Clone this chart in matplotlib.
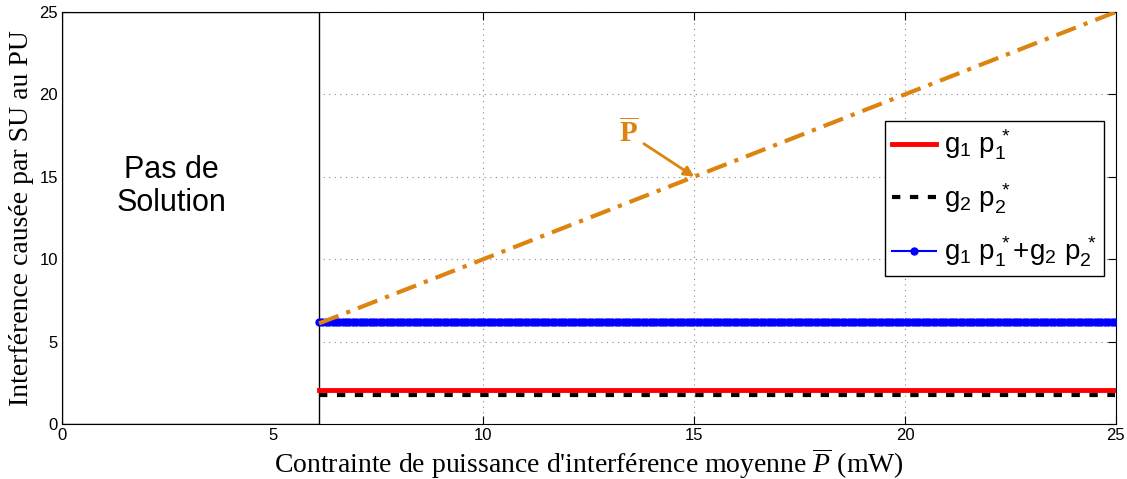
import numpy as np
import matplotlib.pyplot as plt
from matplotlib.patches import Rectangle

plt.rcParams['mathtext.fontset'] = 'custom'
plt.rcParams['mathtext.rm'] = 'Liberation Sans'
plt.rcParams['mathtext.it'] = 'Liberation Serif:italic'
plt.rcParams['mathtext.bf'] = 'Liberation Serif:bold'

# valeurs
p_min = 6.1            # debut de la zone faisable
p_bar = np.arange(p_min, 25.001, 0.08)
g1p1 = 2.05
g2p2 = 1.75
somme = 6.2
x_ticks = [0, 5, 10, 15, 20, 25]
y_ticks = [0, 5, 10, 15, 20, 25]

orange = '#DD8410'

fig = plt.figure(figsize=(11.27, 4.79), dpi=100)
ax = fig.add_axes([0.055, 0.115, 0.935, 0.86])

ax.plot(p_bar, np.full_like(p_bar, g1p1), color='red', lw=3.5, label=r'g$_1$ p$_1^{\ *}$', zorder=3)
ax.plot(p_bar, np.full_like(p_bar, g2p2), color='black', ls=(0, (2, 2.3)), lw=3, label=r'g$_2$ p$_2^{\ *}$', zorder=3)
ax.plot(p_bar, np.full_like(p_bar, somme), color='blue', lw=1.5, marker='o', ms=5,
        label=r'g$_1$ p$_1^{\ *}$+g$_2$ p$_2^{\ *}$', zorder=3)
ax.plot(p_bar, p_bar, color=orange, lw=3, ls=(0, (5, 2, 1, 2)), zorder=3)

# zone sans solution
ax.add_patch(Rectangle((0, 0), p_min, 25, facecolor='white', edgecolor='black', lw=1, zorder=2.5))
ax.text(2.6, 14.4, 'Pas de\nSolution', ha='center', va='center', fontsize=22,
        family='Liberation Sans', linespacing=1.15, zorder=4)

ax.annotate(r'$\overline{\mathbf{P}}$', xy=(15, 15), xytext=(13.45, 17.6), color=orange,
            fontsize=21, ha='center', va='center',
            arrowprops=dict(arrowstyle='-|>', color=orange, lw=2, mutation_scale=15, shrinkA=2, shrinkB=0))

ax.set_xlim(0, 25)
ax.set_ylim(0, 25)
ax.set_xticks(x_ticks)
ax.set_yticks(y_ticks)
for lab in ax.get_xticklabels() + ax.get_yticklabels():
    lab.set_family('Liberation Sans')
    lab.set_fontsize(12)
ax.tick_params(direction='in', top=True, right=True, length=6, pad=3)
ax.grid(True, ls=(0, (1, 4)), color='#888888', lw=0.8)
ax.set_axisbelow(True)

ax.set_xlabel(r"Contrainte de puissance d'interférence moyenne $\overline{P}$ (mW)",
              family='Liberation Serif', fontsize=20, labelpad=2)
ax.set_ylabel('Interférence causée par SU au PU', family='Liberation Serif', fontsize=20, labelpad=4)

leg = ax.legend(loc='upper right', bbox_to_anchor=(0.9886, 0.735), borderaxespad=0,
                fancybox=False, framealpha=1, edgecolor='black',
                prop={'family': 'Liberation Sans', 'size': 20},
                handlelength=1.6, labelspacing=0.7, borderpad=0.25, handletextpad=0.3)
leg.get_frame().set_linewidth(1)

plt.savefig('out.png')
